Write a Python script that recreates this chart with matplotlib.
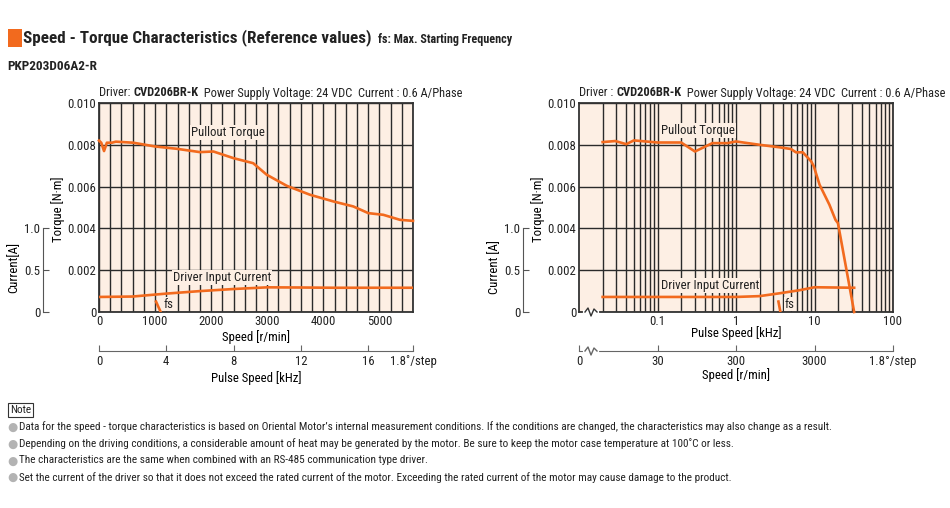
import matplotlib
matplotlib.use("Agg")
import matplotlib.pyplot as plt
from matplotlib.patches import Rectangle
from matplotlib.ticker import FixedLocator, MultipleLocator, LogLocator, NullFormatter
from matplotlib import font_manager

# ---- values ----
# left chart: x in r/min
left_torque_rpm = [0, 40, 90, 140, 230, 300, 612, 1000, 1385, 1800, 2040, 2400, 2750,
                   2990, 3347, 3763, 4180, 4536, 4804, 5071, 5368, 5600]
left_torque_nm = [0.0082, 0.0081, 0.0077, 0.0081, 0.0081, 0.00815, 0.0081, 0.00792, 0.00781,
                  0.00765, 0.00768, 0.00736, 0.00712, 0.00657, 0.00604, 0.00561, 0.00529,
                  0.00505, 0.00473, 0.00465, 0.00441, 0.00436]
left_current_rpm = [0, 600, 1200, 1800, 2400, 3000, 3600, 4200, 5600]
left_current_a = [0.18, 0.185, 0.22, 0.25, 0.275, 0.295, 0.293, 0.29, 0.29]
left_fs_rpm = [1017, 1100]
left_fs_nm = [0.0005, 0.0]

# right chart: x in kHz (log)
right_torque_khz = [0.02, 0.029, 0.04, 0.05, 0.1, 0.2, 0.3, 0.5, 0.78, 1.0, 2.0, 3.6, 5.0,
                    5.8, 7.1, 9.1, 9.8, 11.6, 15.5, 18.5, 19.9, 32]
right_torque_nm = [0.00813, 0.00818, 0.00803, 0.00821, 0.00811, 0.00811, 0.00768, 0.00808,
                   0.00808, 0.00816, 0.0080, 0.00788, 0.0078, 0.00764, 0.00764, 0.0072,
                   0.00697, 0.00609, 0.00513, 0.00441, 0.00425, 0.0]
right_current_khz = [0.02, 1.0, 2.0, 3.6, 6.4, 10, 32]
right_current_a = [0.18, 0.18, 0.19, 0.224, 0.26, 0.296, 0.29]
right_fs_khz = [3.47, 3.68]
right_fs_nm = [0.0005, 0.0]

torque_ticks = [0, 0.002, 0.004, 0.006, 0.008, 0.010]
torque_labels = ["0", "0.002", "0.004", "0.006", "0.008", "0.010"]
current_ticks = [0, 0.5, 1.0]
current_labels = ["0", "0.5", "1.0"]
rpm_ticks = [0, 1000, 2000, 3000, 4000, 5000]
khz_ticks_lin = [0, 4, 8, 12, 16]
khz_ticks_log = [0.1, 1, 10, 100]
rpm_ticks_log = [30, 300, 3000]

notes = [
    "Data for the speed - torque characteristics is based on Oriental Motor\u2019s internal measurement conditions. If the conditions are changed, the characteristics may also change as a result.",
    "Depending on the driving conditions, a considerable amount of heat may be generated by the motor. Be sure to keep the motor case temperature at 100\u02daC or less.",
    "The characteristics are the same when combined with an RS-485 communication type driver.",
    "Set the current of the driver so that it does not exceed the rated current of the motor. Exceeding the rated current of the motor may cause damage to the product.",
]

ORANGE = "#F26A1E"
PEACH = "#FDEFE4"
GRID = "#2a2a2a"

# the reference uses a condensed grotesque; take one if it is installed
names = {f.name for f in font_manager.fontManager.ttflist}
pref = [n for n in ("Roboto Condensed", "Liberation Sans Narrow", "Archivo Narrow",
                    "DejaVu Sans Condensed") if n in names]
BASE = pref[0] if pref else "Liberation Sans"
plt.rcParams["font.family"] = [BASE, "DejaVu Sans"]
plt.rcParams["text.color"] = "#222222"
plt.rcParams["xtick.color"] = "#222222"
plt.rcParams["ytick.color"] = "#222222"

W, H = 950, 508
fig = plt.figure(figsize=(W / 100, H / 100), dpi=100)
renderer = fig.canvas.get_renderer()


def fx(px):
    return px / W


def fy(py):
    return 1 - py / H


def fit_size(s, width_px, weight="normal"):
    # font size that makes s about width_px wide
    t = fig.text(0, 0, s, fontsize=10, weight=weight)
    w = t.get_window_extent(renderer).width
    t.remove()
    return 10 * width_px / w


def text_runs(x, y, runs, width_px, **kw):
    # place bold/regular pieces one after another, scaled to the given total width
    size = 10
    for step in range(2):
        xs = x
        made = []
        for s, weight in runs:
            t = fig.text(fx(xs), fy(y), s, weight=weight, va="center", fontsize=size, **kw)
            xs = t.get_window_extent(renderer).x1
            made.append(t)
        if step == 0:
            for t in made:
                t.remove()
            size = size * width_px / (xs - x)


plt.rcParams["font.size"] = fit_size("Pullout Torque", 74)


def setup_main(ax):
    ax.set_facecolor(PEACH)
    ax.set_ylim(0, 0.010)
    ax.yaxis.set_major_locator(FixedLocator(torque_ticks))
    ax.set_yticklabels(torque_labels)
    ax.grid(True, which="both", color=GRID, lw=1.0)
    ax.set_axisbelow(True)
    ax.tick_params(which="both", length=0)
    ax.tick_params(axis="y", pad=2)
    ax.tick_params(axis="x", pad=2)
    for s in ax.spines.values():
        s.set_color("#333333")
        s.set_linewidth(1.3)
    ax.set_ylabel("Torque [N\u00b7m]", va="center", ha="center")
    ax.yaxis.set_label_coords((58 - 99) / 314, 0.49)


def setup_current(ax, label, lx):
    tw = ax.twinx()
    tw.set_ylim(0, 2.5)
    for k in ("top", "right", "bottom"):
        tw.spines[k].set_visible(False)
    tw.yaxis.set_ticks_position("left")
    tw.yaxis.set_label_position("left")
    tw.spines["left"].set_position(("outward", 56 * 0.72))
    tw.spines["left"].set_bounds(0, 1.0)
    tw.spines["left"].set_color("#555555")
    tw.set_yticks(current_ticks)
    tw.set_yticklabels(current_labels)
    tw.tick_params(axis="y", direction="in", length=4, color="#555555", pad=2)
    tw.set_ylabel(label, va="center", ha="center")
    tw.yaxis.set_label_coords(lx, 0.215)
    return tw


def label_box(ax, x, y, s):
    ax.text(x, y, s, ha="center", va="center", zorder=3,
            bbox=dict(facecolor=PEACH, edgecolor="none", pad=0.6))


# ---------------- left chart ----------------
axl = fig.add_axes([fx(99), fy(312), fx(314), 209 / H])
setup_main(axl)
axl.set_xlim(0, 5600)
axl.xaxis.set_major_locator(FixedLocator(rpm_ticks))
axl.xaxis.set_minor_locator(MultipleLocator(200))
axl.set_xlabel("Speed [r/min]", va="center")
axl.xaxis.set_label_coords(0.5, (312 - 337) / 209)
axl.plot(left_torque_rpm, left_torque_nm, color=ORANGE, lw=1.9, zorder=4, clip_on=False)
axl.plot(left_fs_rpm, left_fs_nm, color=ORANGE, lw=1.9, zorder=4)
label_box(axl, 2300, 0.0086, "Pullout Torque")
label_box(axl, 2195, 0.00166, "Driver Input Current")
label_box(axl, 1240, 0.00038, "fs")
twl = setup_current(axl, "Current[A]", (14 - 99) / 314)
twl.plot(left_current_rpm, left_current_a, color=ORANGE, lw=1.9, zorder=4)

secl = axl.secondary_xaxis((312 - 351) / 209, functions=(lambda r: r / 300, lambda k: k * 300))
secl.set_xticks(khz_ticks_lin + [5600 / 300])
secl.set_xticklabels([str(v) for v in khz_ticks_lin] + ["1.8\u02da/step"])
secl.spines["bottom"].set_color("#666666")
secl.tick_params(direction="in", length=4, color="#666666", pad=3)
secl.set_xlabel("Pulse Speed [kHz]", labelpad=2)

# ---------------- right chart ----------------
axr = fig.add_axes([fx(579), fy(312), fx(314), 209 / H])
setup_main(axr)
axr.set_xscale("log")
axr.set_xlim(0.01, 100)
axr.xaxis.set_major_locator(FixedLocator(khz_ticks_log))
axr.xaxis.set_major_formatter(plt.FixedFormatter(["0.1", "1", "10", "100"]))
axr.xaxis.set_minor_locator(LogLocator(base=10, subs=range(2, 10), numticks=20))
axr.xaxis.set_minor_formatter(NullFormatter())
axr.set_xlabel("Pulse Speed [kHz]", va="center")
axr.xaxis.set_label_coords(0.5, (312 - 333) / 209)
axr.plot(right_torque_khz, right_torque_nm, color=ORANGE, lw=1.9, zorder=4, clip_on=False)
axr.plot(right_fs_khz, right_fs_nm, color=ORANGE, lw=1.9, zorder=4)
label_box(axr, 0.33, 0.0087, "Pullout Torque")
label_box(axr, 0.47, 0.00126, "Driver Input Current")
label_box(axr, 4.8, 0.00038, "fs")
twr = setup_current(axr, "Current [A]", (495 - 579) / 314)
twr.plot(right_current_khz, right_current_a, color=ORANGE, lw=1.9, zorder=4)

secr = axr.secondary_xaxis((312 - 351) / 209, functions=(lambda k: k * 300, lambda r: r / 300))
secr.set_xticks([3] + rpm_ticks_log + [30000])
secr.set_xticklabels(["0"] + [str(v) for v in rpm_ticks_log] + ["1.8\u00b0/step"])
secr.xaxis.set_minor_locator(FixedLocator([]))
secr.spines["bottom"].set_color("#666666")
secr.tick_params(direction="in", length=4, color="#666666", pad=3)
secr.set_xlabel("Speed [r/min]", labelpad=0)

# axis break marks on the log chart
for yb, col in ((0.0, "#333333"), ((312 - 351) / 209, "#666666")):
    x0 = 6 / 314
    axr.plot([x0, x0 + 12 / 314], [yb, yb], transform=axr.transAxes, color="white",
             lw=3, clip_on=False, zorder=6)
    zx = [x0, x0 + 3 / 314, x0 + 6 / 314, x0 + 9 / 314, x0 + 12 / 314]
    zy = [yb, yb + 4 / 209, yb - 4 / 209, yb + 3 / 209, yb]
    axr.plot(zx, zy, transform=axr.transAxes, color=col, lw=1.0, clip_on=False, zorder=7)

# ---------------- header texts ----------------
fig.patches.append(Rectangle((fx(8), fy(47)), fx(14), 18 / H, transform=fig.transFigure,
                             facecolor=ORANGE, edgecolor="none"))
text_runs(23, 38, [("Speed - Torque Characteristics (Reference values)", "bold")], 347)
text_runs(378, 40, [("fs: Max. Starting Frequency", "bold")], 134)
text_runs(7, 67, [("PKP203D06A2-R", "bold")], 90)
text_runs(99, 93, [("Driver: ", "normal"), ("CVD206BR-K", "bold"),
                   ("  Power Supply Voltage: 24 VDC  Current : 0.6 A/Phase", "normal")], 362)
text_runs(579, 93, [("Driver : ", "normal"), ("CVD206BR-K", "bold"),
                    ("  Power Supply Voltage: 24 VDC  Current : 0.6 A/Phase", "normal")], 364)

# ---------------- notes ----------------
note_size = fit_size(notes[0], 810)
fig.text(fx(10), fy(410), "Note", fontsize=note_size, va="center",
         bbox=dict(facecolor="white", edgecolor="#333333", pad=1.5, lw=0.8))
for i, s in enumerate(notes):
    y = 426 + i * 16.7
    fig.text(fx(7), fy(y), "\u25cf", family="DejaVu Sans", fontsize=8.5, color="#b3b3b3",
             va="center_baseline")
    fig.text(fx(19), fy(y), s, fontsize=note_size, va="center_baseline")

fig.savefig("out.png", dpi=100)
